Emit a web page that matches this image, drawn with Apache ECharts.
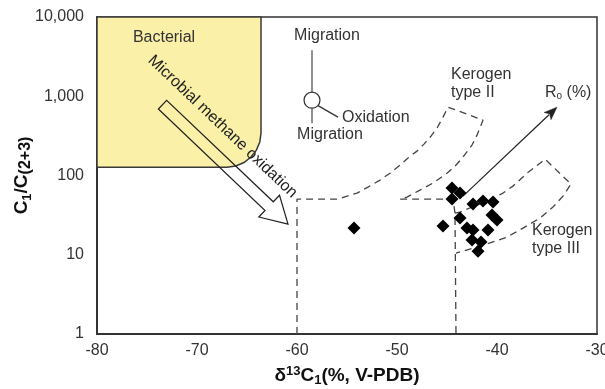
<!DOCTYPE html>
<html><head><meta charset="utf-8">
<script src="https://cdn.jsdelivr.net/npm/echarts@6/dist/echarts.min.js"></script>
<style>html,body{margin:0;padding:0;background:#fff}#c{width:605px;height:389px}</style>
</head><body><div id="c"></div>
<script>
// ---- data ----
const d13C1 = [-54.3,-45.4,-44.5,-43.7,-44.5,-43.7,-43.0,-42.4,-42.4,-41.4,-40.4,-40.5,-40.0,-40.9,-42.5,-41.6,-41.9];
const c1c23 = [21.7,23.0,69.4,60.0,50.4,29.0,21.7,20.5,43.6,47.5,46.2,31.7,27.4,20.5,15.3,14.5,11.1];

const xTickValues = [-80,-70,-60,-50,-40,-30];
const xTickLabels = ['-80','-70','-60','-50','-40','-30'];
const yTickValues = [1,10,100,1000,10000];
const yTickLabels = ['1','10','100','1,000','10,000'];

// Bacterial field outline
const bacterialX = [-80,-63.6,-63.6,-63.72,-64.06,-64.6,-65.3,-66.12,-67,-80];
const bacterialY = [10000,10000,342,265,209,171,146,132,127,127];

// Kerogen type II field boundary (dashed)
const kerogenIIX = [-60,-60,-55.9,-54,-52.9,-51.7,-50.7,-49.7,-48.9,-48,-47.3,-46.6,-46,-45.4,-44.9,-41.4,-41.6,-42,-42.5,-43.4,-44.2,-45,-46.4,-47.7,-49,-49.7,-44.4,-44.2,-44.1];
const kerogenIIY = [1,50.4,50.4,60,71.4,87.5,107,135,166,203,249,314,396,545,729,500,432,323,242,171,131,107,80.2,65.4,53.4,50.4,50.4,33.6,1];

// Kerogen type III field boundary (dashed)
const kerogenIIIX = [-44.2,-43.7,-42,-40.7,-39.4,-38.4,-37,-35.7,-35.2,-32.6,-33.4,-34.4,-35.7,-37.4,-39,-40.7,-42.4,-44.1];
const kerogenIIIY = [33.6,34.6,42.4,49,60,73.5,107,143,161,78,55,40,29,21.7,16.7,14.1,12.1,10.5];

// Maturity (Ro) arrow: start / end
const maturityArrowX = [-43.4,-34.0];
const maturityArrowY = [55,729];
// Microbial methane oxidation arrow: tail / tip
const oxidationArrowX = [-73.45,-60.9];
const oxidationArrowY = [784,24.4];

// ---- annotation anchors (data coordinates) ----
const FONT = '"Liberation Sans", Arial, Helvetica, sans-serif';
const TXT = '#333';
const annotations = {
  bacterial: [-73.3, 5560],
  microbial: [-67.45, 414],
  migration: [-58.5, 893],
  kerogenII: [-44.6, 2467],
  ro: [-35.2, 1127],
  kerogenIII: [-36.5, 25.9]
};

const chart = echarts.init(document.getElementById('c'), null, {renderer:'canvas'});

function pairs(xs, ys){ return xs.map((x,i)=>[x, ys[i]]); }

const option = {
  animation: false,
  backgroundColor: '#fff',
  grid: {left: 97, right: 8, top: 17, bottom: 55, show: true, borderColor: '#333', borderWidth: 1.5,
         backgroundColor: 'transparent', containLabel: false, outerBoundsMode: 'none'},
  xAxis: {
    type: 'value', min: -80, max: -30, interval: 10,
    axisLine: {show: true, onZero: false, lineStyle: {color: '#333', width: 2}},
    axisTick: {show: false}, splitLine: {show: false},
    axisLabel: {color: TXT, fontSize: 16, fontFamily: FONT, margin: 9,
      formatter: v => { const i = xTickValues.indexOf(v); return i >= 0 ? xTickLabels[i] : ''; }},
    name: '{d|δ}{sup|13}{b|C}{sub|1}{b|(%, V-PDB)}',
    nameLocation: 'middle', nameGap: 31,
    nameTextStyle: {
      rich: {
        d: {fontSize: 19, fontWeight: 'bold', fontFamily: FONT, color: '#111', lineHeight: 22},
        b: {fontSize: 19, fontWeight: 'bold', fontFamily: FONT, color: '#111', lineHeight: 22},
        sup: {fontSize: 13, fontWeight: 'bold', fontFamily: FONT, color: '#111', lineHeight: 12, verticalAlign: 'top'},
        sub: {fontSize: 13, fontWeight: 'bold', fontFamily: FONT, color: '#111', lineHeight: 8, verticalAlign: 'bottom'}
      }
    }
  },
  yAxis: {
    type: 'log', logBase: 10, min: 1, max: 10000,
    axisLine: {show: true, onZero: false, lineStyle: {color: '#333', width: 2}},
    axisTick: {show: false}, splitLine: {show: false},
    axisLabel: {color: TXT, fontSize: 16, fontFamily: FONT, margin: 13,
      formatter: v => { const i = yTickValues.findIndex(t => Math.abs(t - v) < 1e-6 * t); return i >= 0 ? yTickLabels[i] : ''; }},
    name: '{b|C}{sub|1}{b|/C}{sub2|(2+3)}',
    nameLocation: 'middle', nameGap: 63, nameRotate: 90, nameMoveOverlap: false,
    nameTextStyle: {
      rich: {
        b: {fontSize: 19, fontWeight: 'bold', fontFamily: FONT, color: '#111', lineHeight: 24},
        sub: {fontSize: 13, fontWeight: 'bold', fontFamily: FONT, color: '#111', lineHeight: 10, verticalAlign: 'bottom'},
        sub2: {fontSize: 16, fontWeight: 'bold', fontFamily: FONT, color: '#111', lineHeight: 14, verticalAlign: 'bottom'}
      }
    }
  },
  series: [
    { // bacterial field
      type: 'custom', z: 1, silent: true,
      data: [[-70, 1000]],
      renderItem: (params, api) => ({
        type: 'polygon',
        shape: {points: pairs(bacterialX, bacterialY).map(p => api.coord(p))},
        style: {fill: '#FAF0A8', stroke: '#3a3a3a', lineWidth: 1.5}
      })
    },
    { type: 'line', z: 2, silent: true, symbol: 'none', data: pairs(kerogenIIX, kerogenIIY),
      lineStyle: {color: '#444', width: 1.3, type: [7, 5]} },
    { type: 'line', z: 2, silent: true, symbol: 'none', data: pairs(kerogenIIIX, kerogenIIIY),
      lineStyle: {color: '#444', width: 1.3, type: [7, 5]} },
    { // arrows and annotations
      type: 'custom', z: 3, silent: true,
      data: [[-60, 100]],
      renderItem: (params, api) => {
        const children = [];
        // hollow oxidation arrow
        const t = api.coord([oxidationArrowX[0], oxidationArrowY[0]]);
        const h = api.coord([oxidationArrowX[1], oxidationArrowY[1]]);
        let dx = h[0]-t[0], dy = h[1]-t[1]; const L = Math.hypot(dx, dy);
        const ux = dx/L, uy = dy/L, nx = -uy, ny = ux;
        const hw = 6, hh = 15, hl = 26;
        const b = [h[0]-ux*hl, h[1]-uy*hl];
        children.push({type: 'polygon', shape: {points: [
          [t[0]+nx*hw, t[1]+ny*hw], [b[0]+nx*hw, b[1]+ny*hw], [b[0]+nx*hh, b[1]+ny*hh], h,
          [b[0]-nx*hh, b[1]-ny*hh], [b[0]-nx*hw, b[1]-ny*hw], [t[0]-nx*hw, t[1]-ny*hw]]},
          style: {fill: null, stroke: '#222', lineWidth: 1.2}});
        const ang = Math.atan2(dy, dx);
        // microbial text
        const m = api.coord(annotations.microbial);
        children.push({type: 'text', x: m[0], y: m[1], rotation: -ang,
          style: {text: 'Microbial methane oxidation', fill: '#222', fontSize: 16, fontFamily: FONT, align: 'center', verticalAlign: 'middle'}});
        // bacterial text
        const bc = api.coord(annotations.bacterial);
        children.push({type: 'text', x: bc[0], y: bc[1], style: {text: 'Bacterial', fill: TXT, fontSize: 16, fontFamily: FONT, align: 'center', verticalAlign: 'middle'}});
        // migration / oxidation symbol
        const c = api.coord(annotations.migration);
        const r = 8;
        children.push({type: 'line', shape: {x1: c[0], y1: c[1]-50, x2: c[0], y2: c[1]-r}, style: {stroke: '#555', lineWidth: 1.3}});
        children.push({type: 'line', shape: {x1: c[0], y1: c[1]+r, x2: c[0], y2: c[1]+23}, style: {stroke: '#555', lineWidth: 1.3}});
        children.push({type: 'circle', shape: {cx: c[0], cy: c[1], r: r}, style: {fill: '#fff', stroke: '#333', lineWidth: 1.2}});
        children.push({type: 'line', shape: {x1: c[0]+6, y1: c[1]+5.5, x2: c[0]+26, y2: c[1]+17}, style: {stroke: '#333', lineWidth: 1.2}});
        children.push({type: 'text', x: c[0]+15, y: c[1]-65, style: {text: 'Migration', fill: TXT, fontSize: 16, fontFamily: FONT, align: 'center', verticalAlign: 'middle'}});
        children.push({type: 'text', x: c[0]+18, y: c[1]+34, style: {text: 'Migration', fill: TXT, fontSize: 16, fontFamily: FONT, align: 'center', verticalAlign: 'middle'}});
        children.push({type: 'text', x: c[0]+30, y: c[1]+17, style: {text: 'Oxidation', fill: TXT, fontSize: 16, fontFamily: FONT, align: 'left', verticalAlign: 'middle'}});
        // kerogen labels
        const k2 = api.coord(annotations.kerogenII);
        children.push({type: 'text', x: k2[0], y: k2[1], style: {text: 'Kerogen\ntype II', fill: TXT, fontSize: 16, lineHeight: 18, fontFamily: FONT, align: 'left', verticalAlign: 'top'}});
        const k3 = api.coord(annotations.kerogenIII);
        children.push({type: 'text', x: k3[0], y: k3[1], style: {text: 'Kerogen\ntype III', fill: TXT, fontSize: 16, lineHeight: 18, fontFamily: FONT, align: 'left', verticalAlign: 'top'}});
        // Ro text
        const ro = api.coord(annotations.ro);
        children.push({type: 'text', x: ro[0], y: ro[1], style: {
          text: '{a|R}{s|o}{a| (%)}', fontFamily: FONT, align: 'left', verticalAlign: 'middle',
          rich: {a: {fontSize: 16, fontFamily: FONT, fill: TXT, color: TXT, lineHeight: 18},
                 s: {fontSize: 10, fontFamily: FONT, fill: TXT, color: TXT, lineHeight: 10, verticalAlign: 'bottom'}}}});
        // maturity arrow
        const a0 = api.coord([maturityArrowX[0], maturityArrowY[0]]);
        const a1 = api.coord([maturityArrowX[1], maturityArrowY[1]]);
        const mdx = a1[0]-a0[0], mdy = a1[1]-a0[1], ML = Math.hypot(mdx, mdy);
        const mux = mdx/ML, muy = mdy/ML, mnx = -muy, mny = mux;
        const al = 13, aw = 5;
        const ab = [a1[0]-mux*al, a1[1]-muy*al];
        children.push({type: 'line', shape: {x1: a0[0], y1: a0[1], x2: ab[0]+mux*2, y2: ab[1]+muy*2}, style: {stroke: '#222', lineWidth: 1.2}});
        children.push({type: 'polygon', shape: {points: [a1, [ab[0]+mnx*aw, ab[1]+mny*aw], [ab[0]+mux*3, ab[1]+muy*3], [ab[0]-mnx*aw, ab[1]-mny*aw]]},
          style: {fill: '#222', stroke: '#222', lineWidth: 0.5}});
        return {type: 'group', children};
      }
    },
    { type: 'scatter', z: 5, symbol: 'diamond', symbolSize: 13,
      itemStyle: {color: '#000', opacity: 1}, data: pairs(d13C1, c1c23) }
  ]
};
chart.setOption(option);
</script></body></html>
